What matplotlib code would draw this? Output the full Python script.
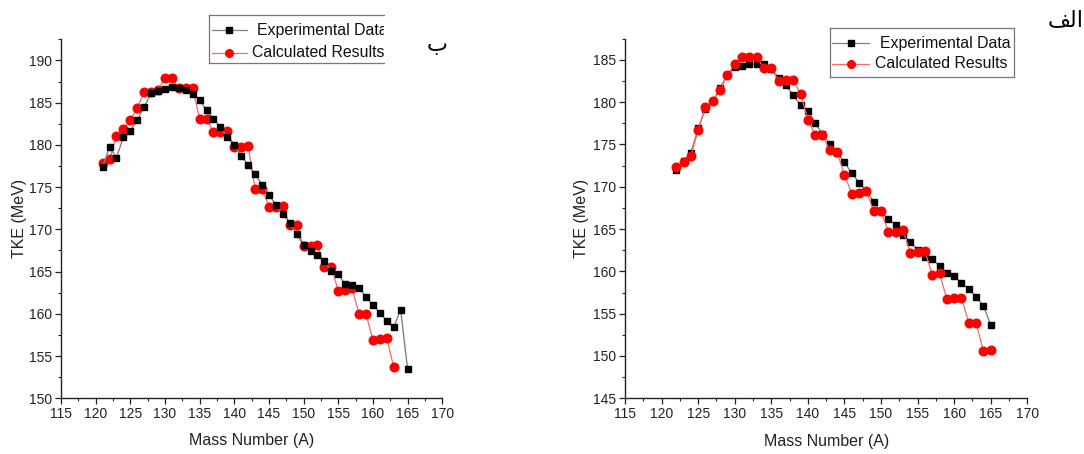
import matplotlib
matplotlib.use("Agg")
import matplotlib.pyplot as plt
from matplotlib.lines import Line2D
from matplotlib.transforms import Bbox, TransformedBbox
from matplotlib.ticker import MultipleLocator

plt.rcParams["font.family"] = ["Liberation Sans", "DejaVu Sans"]

# panel "ب" (left)
mass_exp_b = list(range(121, 166))
tke_exp_b = [177.4, 179.7, 178.5, 180.9, 181.7, 182.9, 184.5, 186.1, 186.4, 186.6,
             186.9, 186.7, 186.5, 186.0, 185.3, 184.1, 183.1, 182.1, 180.9, 180.0,
             178.7, 177.6, 176.5, 175.3, 174.1, 172.9, 171.8, 170.8, 169.4, 168.1,
             167.4, 167.0, 166.2, 165.1, 164.7, 163.5, 163.4, 163.1, 162.0, 161.1,
             160.1, 159.2, 158.4, 160.5, 153.5]
mass_calc_b = list(range(121, 164))
tke_calc_b = [177.9, 178.3, 181.0, 181.9, 182.9, 184.4, 186.3, 186.3, 186.5, 187.9,
              187.9, 186.7, 186.7, 186.7, 183.1, 183.1, 181.5, 181.5, 181.6, 179.8,
              179.8, 179.9, 174.8, 174.8, 172.7, 172.7, 172.8, 170.5, 170.5, 168.0,
              168.0, 168.2, 165.6, 165.6, 162.7, 162.8, 163.0, 160.0, 160.0, 156.9,
              157.0, 157.1, 153.7]

# panel "الف" (right)
mass_exp_a = list(range(122, 166))
tke_exp_a = [172.0, 173.0, 174.0, 176.9, 179.2, 180.1, 181.7, 183.2, 184.1, 184.3,
             184.5, 184.5, 184.5, 183.9, 182.9, 182.0, 180.8, 179.7, 179.0, 177.5,
             176.2, 175.1, 174.0, 172.9, 171.6, 170.5, 169.5, 168.2, 167.1, 166.2,
             165.5, 164.3, 163.5, 162.5, 161.7, 161.5, 160.6, 159.8, 159.5, 158.6,
             157.9, 157.0, 155.9, 153.7]
mass_calc_a = list(range(122, 166))
tke_calc_a = [172.3, 172.9, 173.6, 176.7, 179.4, 180.1, 181.4, 183.2, 184.5, 185.3,
              185.3, 185.3, 184.0, 184.0, 182.5, 182.6, 182.6, 181.0, 177.9, 176.1,
              176.1, 174.3, 174.1, 171.4, 169.2, 169.3, 169.5, 167.1, 167.1, 164.7,
              164.7, 164.9, 162.2, 162.3, 162.4, 159.6, 159.8, 156.7, 156.8, 156.9,
              153.9, 153.9, 150.6, 150.7]

labels = ["Experimental Data", "Calculated Results"]

W, H = 1084, 454
fig = plt.figure(figsize=(W / 100, H / 100), dpi=100)


def fx(x):
    return x / W


def fy(y):
    return 1 - y / H


def draw_panel(ax, m_exp, v_exp, m_calc, v_calc, ylim, red_on_top):
    z_exp, z_calc = (3, 4) if red_on_top else (4, 3)
    ax.plot(m_exp, v_exp, color="#808080", lw=1.0, marker="s", ms=5,
            mfc="black", mec="black", zorder=z_exp)
    ax.plot(m_calc, v_calc, color="#ff6666", lw=0.9, marker="o", ms=6.2,
            mfc="red", mec="red", zorder=z_calc)
    ax.set_xlim(115, 170)
    ax.set_ylim(*ylim)
    ax.xaxis.set_major_locator(MultipleLocator(5))
    ax.xaxis.set_minor_locator(MultipleLocator(2.5))
    ax.yaxis.set_major_locator(MultipleLocator(5))
    ax.yaxis.set_minor_locator(MultipleLocator(2.5))
    for side in ("top", "right"):
        ax.spines[side].set_visible(False)
    for side in ("left", "bottom"):
        ax.spines[side].set_linewidth(1.0)
        ax.spines[side].set_color("#222222")
    ax.tick_params(which="major", direction="out", length=4.5, width=0.9,
                   labelsize=10, pad=2, colors="#222222")
    ax.tick_params(which="minor", direction="out", length=2.5, width=0.8,
                   colors="#222222")
    ax.set_xlabel("Mass Number (A)", fontsize=11.5, color="#222222")
    ax.set_ylabel("TKE (MeV)", fontsize=11.5, color="#222222")


ax_b = fig.add_axes([fx(61), fy(398.3), fx(381.2), (398.3 - 39.3) / H])
draw_panel(ax_b, mass_exp_b, tke_exp_b, mass_calc_b, tke_calc_b, (150, 192.5), False)
ax_b.xaxis.set_label_coords(0.5, -0.098)
ax_b.yaxis.set_label_coords(-0.09, 0.5)

ax_a = fig.add_axes([fx(625), fy(398.3), fx(402.3), (398.3 - 38.7) / H])
draw_panel(ax_a, mass_exp_a, tke_exp_a, mass_calc_a, tke_calc_a, (145, 187.5), True)
ax_a.xaxis.set_label_coords(0.5, -0.098)
ax_a.yaxis.set_label_coords(-0.09, 0.5)


def draw_legend(x0, x1, y0, y1, rows, h0, h1, text_x, right_edge):
    edge = "#777777"
    segs = [([x0, x1], [y0, y0]), ([x0, x0], [y0, y1]), ([x0, x1], [y1, y1])]
    if right_edge:
        segs.append(([x1, x1], [y0, y1]))
    for xs, ys in segs:
        fig.add_artist(Line2D([fx(v) for v in xs], [fy(v) for v in ys],
                              transform=fig.transFigure, color=edge, lw=0.9))
    clip = TransformedBbox(Bbox([[fx(x0), fy(y1)], [fx(x1), fy(y0)]]), fig.transFigure)
    styles = [("#808080", "s", "black", 4.5), ("#ff6666", "o", "red", 5.5)]
    for (lc, mk, mc, ms), ry, tx, lab in zip(styles, rows, text_x, labels):
        fig.add_artist(Line2D([fx(h0), fx((h0 + h1) / 2), fx(h1)], [fy(ry)] * 3,
                              transform=fig.transFigure, color=lc, lw=0.9,
                              marker=mk, markevery=[1], ms=ms, mfc=mc, mec=mc))
        t = fig.text(fx(tx), fy(ry), lab, fontsize=11.4, ha="left", va="center",
                     color="#111111")
        t.set_clip_box(clip)
        t.set_clip_on(True)


draw_legend(209.3, 384.3, 15, 63.3, [30, 52.7], 211.7, 246.7, [256.7, 251.7], False)
draw_legend(830, 1014.3, 28.3, 77.3, [43.3, 64], 831.7, 869.3, [880, 875], True)

# Arabic panel tags, written in shaped (presentation) forms so they join correctly
fig.text(fx(437), fy(45), "\ufe8f", fontsize=16, ha="center", va="center",
         family=["DejaVu Sans"])
fig.text(fx(1066), fy(20), "\ufed2\ufedf\ufe8d", fontsize=16, ha="center", va="center",
         family=["DejaVu Sans"])

fig.savefig("out.png", dpi=100)
